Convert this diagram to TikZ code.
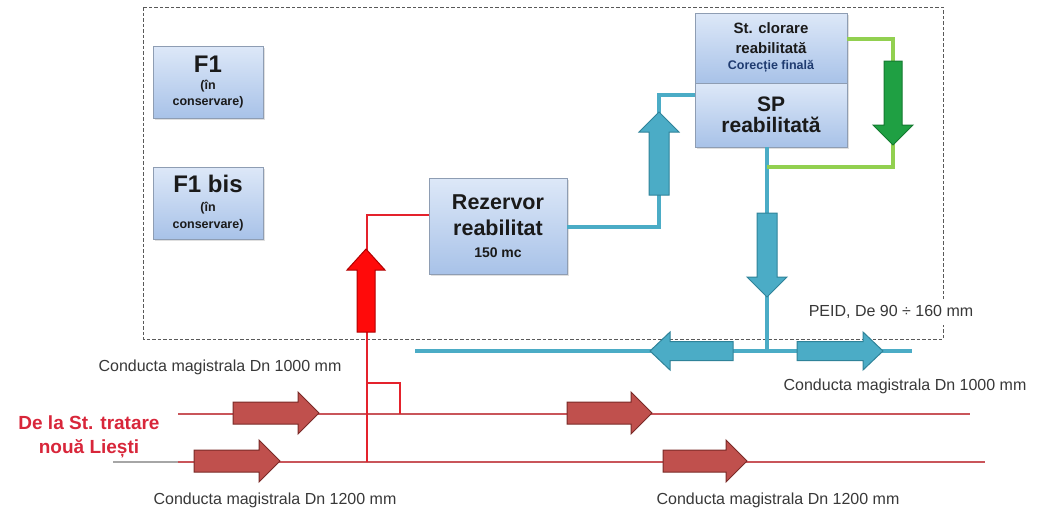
\documentclass[tikz,border=0pt]{standalone}
\usepackage{fontspec}
\setmainfont{Liberation Sans}
\usetikzlibrary{shadows}

\definecolor{boxtop}{HTML}{DDE8F8}
\definecolor{boxbot}{HTML}{A8C2E8}
\definecolor{boxline}{HTML}{8E9DB3}
\definecolor{pipeteal}{HTML}{4BACC6}
\definecolor{tealdark}{HTML}{2F8399}
\definecolor{pipegreen}{HTML}{92D050}
\definecolor{greenfill}{HTML}{1FA043}
\definecolor{greendark}{HTML}{147A30}
\definecolor{feedred}{HTML}{E4222C}
\definecolor{brightred}{HTML}{FF0A0A}
\definecolor{reddark}{HTML}{B00000}
\definecolor{mainred}{HTML}{C9555A}
\definecolor{brick}{HTML}{C0504D}
\definecolor{brickdark}{HTML}{7A2A27}
\definecolor{labelred}{HTML}{D8263A}
\definecolor{labelgray}{HTML}{383838}
\definecolor{titleink}{HTML}{1A1A1A}
\definecolor{noteblue}{HTML}{1F3B70}

% type sizes for the box captions (baseline gaps are given explicitly)
\newcommand\capsz[1]{\fontsize{#1}{0}\selectfont}

\tikzset{
  unitbox/.style={draw=boxline, line width=0.8pt, top color=boxtop, bottom color=boxbot,
    drop shadow={opacity=0.25, shadow xshift=1.5pt, shadow yshift=-1.5pt},
    align=center, inner sep=0pt, text=titleink,
    font={\bfseries\fontsize{10}{0}\selectfont\lineskiplimit=-100pt\relax}},
  tealpipe/.style={draw=pipeteal, line width=3.5pt},
  greenpipe/.style={draw=pipegreen, line width=3.5pt},
  feedpipe/.style={draw=feedred, line width=2.2pt},
  mainpipe/.style={draw=mainred, line width=2.8pt},
  % block arrow from its tail (origin) along +x: length / head width / shaft width / head length
  pics/flowarrow/.style args={#1/#2/#3/#4}{code={
    \path[pic actions] (0,-#3/2) -- ({#1-#4},-#3/2) -- ({#1-#4},-#2/2) -- (#1,0)
      -- ({#1-#4},#2/2) -- ({#1-#4},#3/2) -- (0,#3/2) -- cycle;}},
  tealarrow/.style={fill=pipeteal, draw=tealdark, line width=1pt},
  greenarrow/.style={fill=greenfill, draw=greendark, line width=1pt},
  feedarrow/.style={fill=brightred, draw=reddark, line width=1pt},
  brickarrow/.style={fill=brick, draw=brickdark, line width=1pt},
  pipelabel/.style={font=\fontsize{16}{18}\selectfont, text=labelgray, inner sep=0pt}
}

\begin{document}
\begin{tikzpicture}[x=1pt,y=-1pt]
\useasboundingbox (0,0) rectangle (1059,512);

% site boundary
\draw[draw=black!65, line width=0.8pt, dash pattern=on 3.5pt off 2pt] (143,7) rectangle (943,339);

% unit boxes
\node[unitbox, minimum width=110pt, minimum height=72pt] (f1) at (208,82)
  {\capsz{24}F1\\[17pt]\capsz{12.5}(în\\[16pt]\capsz{12.5}conservare)};
\node[unitbox, minimum width=110pt, minimum height=72pt] (f1bis) at (208,203)
  {\capsz{24}F1 bis\\[19pt]\capsz{12.5}(în\\[17pt]\capsz{12.5}conservare)};
\node[unitbox, minimum width=138pt, minimum height=96pt] (rez) at (498,226)
  {\capsz{21.5}Rezervor\\[26pt]\capsz{21.5}reabilitat\\[22pt]\capsz{14}150 mc};
\node[unitbox, minimum width=152pt, minimum height=70pt] (clor) at (771,48)
  {\capsz{15}St. clorare\\[20pt]\capsz{15}reabilitată\\[16pt]\capsz{12.5}\color{noteblue}Corecție finală};
\node[unitbox, minimum width=152pt, minimum height=64pt] (sp) at (771,115)
  {\capsz{21}SP\\[21pt]\capsz{21}reabilitată};

% pipe junction points
\coordinate (rbase) at (367,462);
\coordinate (rturn) at (367,215);
\coordinate (bstart) at (367,383);
\coordinate (bcorner) at (400,383);
\coordinate (bend) at (400,414);
\coordinate (tlow) at (659,227);
\coordinate (thigh) at (659,95);
\coordinate (tdown) at (767,351);
\coordinate (tleft) at (415,351);
\coordinate (tright) at (912,351);
\coordinate (gtop) at (893,39);
\coordinate (gbot) at (893,167);
\coordinate (gjoin) at (767,167);
\coordinate (uwest) at (178,414);
\coordinate (ueast) at (970,414);
\coordinate (lstub) at (113,462);
\coordinate (lwest) at (178,462);
\coordinate (least) at (985,462);

% main trunk lines
\draw[draw=black!35, line width=1.5pt] (lstub) -- (lwest);
\draw[mainpipe] (uwest) -- (ueast);
\draw[mainpipe] (lwest) -- (least);

% feed to reservoir
\draw[feedpipe] (rbase) -- (rturn) -- (rturn -| rez.west);
\draw[feedpipe] (bstart) -- (bcorner) -- (bend);

% reservoir to pumping station and distribution
\draw[tealpipe] (rez.east |- tlow) -- (tlow) -- (thigh) -- (thigh -| sp.west);
\draw[tealpipe] (tdown |- sp.south) -- (tdown);
\draw[tealpipe] (tleft) -- (tright);

% chlorination loop
\draw[greenpipe] (gtop -| clor.east) -- (gtop) -- (gbot) -- (gjoin);

% flow arrows (placed at their tails)
\pic[feedarrow, rotate=90] (aup) at (366,332) {flowarrow=83/38/18/21};
\pic[tealarrow, rotate=90] (tup) at (659,195) {flowarrow=83/40/20/20};
\pic[greenarrow, rotate=-90] (gdown) at (893,61) {flowarrow=84/40/18/20};
\pic[tealarrow, rotate=-90] (tdn) at (767,213) {flowarrow=84/40/20/20};
\pic[tealarrow, rotate=180] (tlf) at (733,351) {flowarrow=83/38/19/20};
\pic[tealarrow] (trt) at (797,351) {flowarrow=86/38/19/20};
\pic[brickarrow] (b1) at (233,413) {flowarrow=86/42/22/21};
\pic[brickarrow] (b2) at (567,413) {flowarrow=85/42/22/21};
\pic[brickarrow] (b3) at (194,461) {flowarrow=86/42/22/21};
\pic[brickarrow] (b4) at (663,461) {flowarrow=84/42/22/21};

% labels
\node[pipelabel] (l1) at (220,367) {Conducta magistrala Dn 1000 mm};
\node[pipelabel] (l2) at (905,386) {Conducta magistrala Dn 1000 mm};
\node[pipelabel] (l3) at (275,500) {Conducta magistrala Dn 1200 mm};
\node[pipelabel] (l4) at (778,500) {Conducta magistrala Dn 1200 mm};
\node[pipelabel, fill=white, inner ysep=6pt, inner xsep=1pt] (l5) at (891,312) {PEID, De 90 ÷ 160 mm};
\node[align=center, text=labelred, inner sep=0pt,
  font=\bfseries\fontsize{19}{24}\selectfont] (src) at (89,437) {De la St. tratare\\nouă Liești};
\end{tikzpicture}
\end{document}
